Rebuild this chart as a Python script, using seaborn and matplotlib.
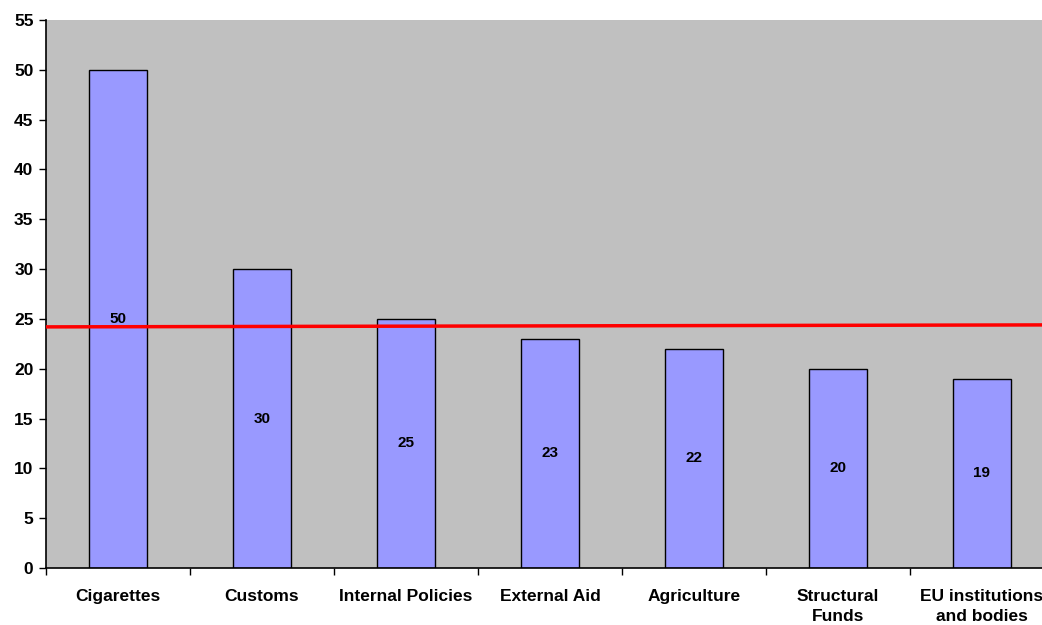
import matplotlib
matplotlib.use('Agg')
import matplotlib.pyplot as plt
import pandas as pd
import seaborn as sns
from matplotlib.ticker import FixedLocator

categories = ['Cigarettes', 'Customs', 'Internal Policies', 'External Aid',
              'Agriculture', 'Structural\nFunds', 'EU institutions\nand bodies']
values = [50, 30, 25, 23, 22, 20, 19]
# red reference line, left end and right end
ref_line = [24.2, 24.4]

df = pd.DataFrame({'category': categories, 'value': values})

sns.set_style('white')
plt.rcParams['font.family'] = ['Liberation Sans', 'DejaVu Sans']
plt.rcParams['font.weight'] = 'bold'
plt.rcParams['text.color'] = 'black'
plt.rcParams['xtick.color'] = 'black'
plt.rcParams['ytick.color'] = 'black'

fig = plt.figure(figsize=(10.42, 6.25), dpi=100)
ax = fig.add_axes([46 / 1042, 57 / 625, 1008 / 1042, 548 / 625])
ax.set_facecolor('#C0C0C0')

sns.barplot(data=df, x='category', y='value', color='#9999FF', saturation=1,
            width=0.4, edgecolor='black', linewidth=1, ax=ax)

# value labels in the middle of each bar
ax.bar_label(ax.containers[0], labels=[str(v) for v in values],
             label_type='center', fontsize=11, fontweight='bold', color='black')

# red line across the chart
ax.plot([-0.5, len(categories) - 0.5], ref_line, color='red', lw=2.5, zorder=5)

ax.set_xlim(-0.5, len(categories) - 0.5)
ax.set_ylim(0, 55)
ax.set_yticks(range(0, 56, 5))
ax.tick_params(axis='y', labelsize=12.5, length=5, width=1, direction='out',
               left=True, pad=4, labelcolor='black')

# category ticks at the boundaries, labels at the centres
ax.xaxis.set_major_locator(FixedLocator([i + 0.5 for i in range(-1, len(categories))]))
ax.set_xticklabels([])
ax.xaxis.set_minor_locator(FixedLocator(range(len(categories))))
ax.set_xticklabels(categories, minor=True, fontsize=12.5, fontweight='bold',
                   va='top', linespacing=1.4, color='black')
ax.tick_params(axis='x', which='major', length=5, width=1, direction='out', bottom=True)
ax.tick_params(axis='x', which='minor', length=0, pad=15)

ax.set_xlabel('')
ax.set_ylabel('')
for side in ['top', 'right']:
    ax.spines[side].set_visible(False)
for side in ['left', 'bottom']:
    ax.spines[side].set_color('black')
    ax.spines[side].set_linewidth(1.2)

fig.savefig('out.png', dpi=100)
